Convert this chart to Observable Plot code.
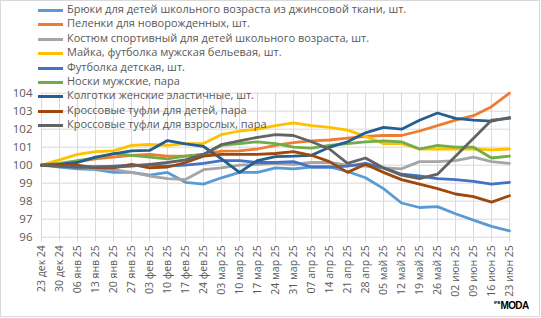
<!DOCTYPE html>
<html><head><meta charset="utf-8">
<script src="https://cdn.jsdelivr.net/npm/d3@7"></script>
<script src="https://cdn.jsdelivr.net/npm/@observablehq/plot@0.6"></script>
<style>
body{margin:0;background:#fff;}
#wrap{position:relative;width:541px;height:318px;overflow:hidden;font-family:"Open Sans",sans-serif;}
#chart{position:absolute;left:0;top:0;}
#border{position:absolute;left:0;top:0;width:538px;height:315px;border:1px solid #d9d9d9;pointer-events:none;}
#legend{position:absolute;left:0;top:0;width:541px;height:140px;pointer-events:none;}
.item{position:absolute;left:38px;height:14px;white-space:nowrap;font-size:11px;color:#595959;}
.sw{position:absolute;left:0;top:6px;width:25px;height:3px;}
.lbl{position:absolute;left:29px;top:-1px;line-height:14px;}
#logo{position:absolute;left:494px;top:300px;font-family:"Liberation Sans",Arial,sans-serif;font-weight:bold;font-size:10px;color:#000;letter-spacing:-0.6px;}
#logo small{font-size:4px;letter-spacing:0;vertical-align:top;}
</style></head>
<body>
<div id="wrap"><div id="chart"></div><div id="legend"></div><div id="border"></div><div id="logo"><small>IFB</small>MODA</div></div>
<script>
const dates = ["23 дек 24","30 дек 24","06 янв 25","13 янв 25","20 янв 25","27 янв 25","03 фев 25","10 фев 25","17 фев 25","24 фев 25","03 мар 25","10 мар 25","17 мар 25","24 мар 25","31 мар 25","07 апр 25","14 апр 25","21 апр 25","28 апр 25","05 май 25","12 май 25","19 май 25","26 май 25","02 июн 25","09 июн 25","16 июн 25","23 июн 25"];

const seriesNames = [
  "Брюки для детей школьного возраста из джинсовой ткани, шт.",
  "Пеленки для новорожденных, шт.",
  "Костюм спортивный для детей школьного возраста, шт.",
  "Майка, футболка мужская бельевая, шт.",
  "Футболка детская, шт.",
  "Носки мужские, пара",
  "Колготки женские эластичные, шт.",
  "Кроссовые туфли для детей, пара",
  "Кроссовые туфли для взрослых, пара"
];
const seriesColors = ["#5B9BD5","#ED7D31","#A5A5A5","#FFC000","#4472C4","#70AD47","#255E91","#9E480E","#636363"];

const bryuki   = [100,99.9,99.8,99.75,99.6,99.6,99.45,99.6,99.05,98.95,99.3,99.6,99.6,99.85,99.8,99.9,99.9,99.65,99.3,98.7,97.9,97.65,97.7,97.3,96.95,96.6,96.35];
const pelenki  = [100,100.05,100.2,100.35,100.45,100.55,100.6,100.5,100.5,100.6,100.78,100.8,100.9,101.1,101.25,101.35,101.4,101.5,101.6,101.65,101.65,101.9,102.2,102.5,102.75,103.25,104.0];
const kostyum  = [100,100,99.9,99.8,99.75,99.6,99.4,99.25,99.2,99.75,99.85,100,100.05,100.1,100.05,100.15,100.15,100.0,99.95,99.85,99.8,100.2,100.2,100.25,100.45,100.2,100.1];
const mayka    = [100,100.3,100.6,100.75,100.8,101.1,101.15,101.1,101.2,101.2,101.7,101.9,102.0,102.2,102.35,102.2,102.1,101.95,101.6,101.2,101.2,100.9,100.9,100.9,100.9,100.85,100.9];
const futbolka = [100,99.95,99.9,99.9,99.95,100,100,99.95,100,100.1,100.25,100.25,100.15,100.15,100.2,99.9,99.9,99.95,100.1,99.85,99.5,99.4,99.25,99.2,99.1,98.95,99.05];
const noski    = [100,100.1,100.25,100.4,100.65,100.55,100.45,100.35,100.5,100.6,101.1,101.2,101.3,101.2,101.0,100.95,101.1,101.2,101.3,101.35,101.3,100.9,101.1,101.0,101.0,100.4,100.5];
const kolgotki = [100,100.05,100.15,100.45,100.63,100.8,100.82,101.37,101.19,101.04,100.35,99.6,100.26,100.48,100.5,100.55,101.0,101.3,101.8,102.1,102.0,102.5,102.9,102.6,102.5,102.45,102.65];
const krossDet = [100,100,100,99.85,99.85,100.05,99.85,99.9,100.15,100.5,100.6,100.6,100.6,100.65,100.75,100.55,100.2,99.6,100.05,99.6,99.2,98.95,98.7,98.4,98.25,97.95,98.3];
const krossVzr = [100,99.95,99.9,99.9,99.9,99.95,100.05,100.15,100.3,100.6,101.15,101.35,101.55,101.7,101.65,101.3,100.9,100.1,100.4,99.85,99.45,99.25,99.5,100.5,101.5,102.5,102.6];

const yTicks = [96,97,98,99,100,101,102,103,104];

const allSeries = [bryuki,pelenki,kostyum,mayka,futbolka,noski,kolgotki,krossDet,krossVzr];
const rows = [];
allSeries.forEach((vals, s) => vals.forEach((v, i) => rows.push({date: dates[i], value: v, series: seriesNames[s]})));

const chart = Plot.plot({
  width: 541, height: 318,
  marginLeft: 41, marginRight: 32, marginTop: 92.7, marginBottom: 81.3,
  style: {fontFamily: '"Open Sans", sans-serif', fontSize: "10.5px", color: "#595959", background: "transparent"},
  x: {type: "point", domain: dates, padding: 0, label: null},
  y: {domain: [96, 104], label: null},
  color: {domain: seriesNames, range: seriesColors},
  marks: [
    Plot.gridY(yTicks, {stroke: "#d9d9d9", strokeOpacity: 1, strokeWidth: 1}),
    Plot.gridX(dates, {stroke: "#d9d9d9", strokeOpacity: 1, strokeWidth: 1}),
    Plot.axisX({ticks: dates, tickRotate: -90, tickSize: 5, tickPadding: 3, stroke: "#d9d9d9", strokeOpacity: 1, fill: "#595959", fontSize: 10.5}),
    Plot.axisY({ticks: yTicks, tickSize: 0, tickPadding: 9, fill: "#595959", fontSize: 11.5, tickFormat: d => String(d)}),
    Plot.lineY(rows, {x: "date", y: "value", z: "series", stroke: "series", strokeWidth: 2.8, strokeLinejoin: "round", strokeLinecap: "round"})
  ]
});
document.getElementById("chart").appendChild(chart);

const legend = document.getElementById("legend");
seriesNames.forEach((name, i) => {
  const item = document.createElement("div");
  item.className = "item";
  item.style.top = (3 + i * 14.4) + "px";
  const sw = document.createElement("div");
  sw.className = "sw"; sw.style.background = seriesColors[i];
  const lbl = document.createElement("div");
  lbl.className = "lbl"; lbl.textContent = name;
  item.appendChild(sw); item.appendChild(lbl);
  legend.appendChild(item);
});
</script>
</body></html>
